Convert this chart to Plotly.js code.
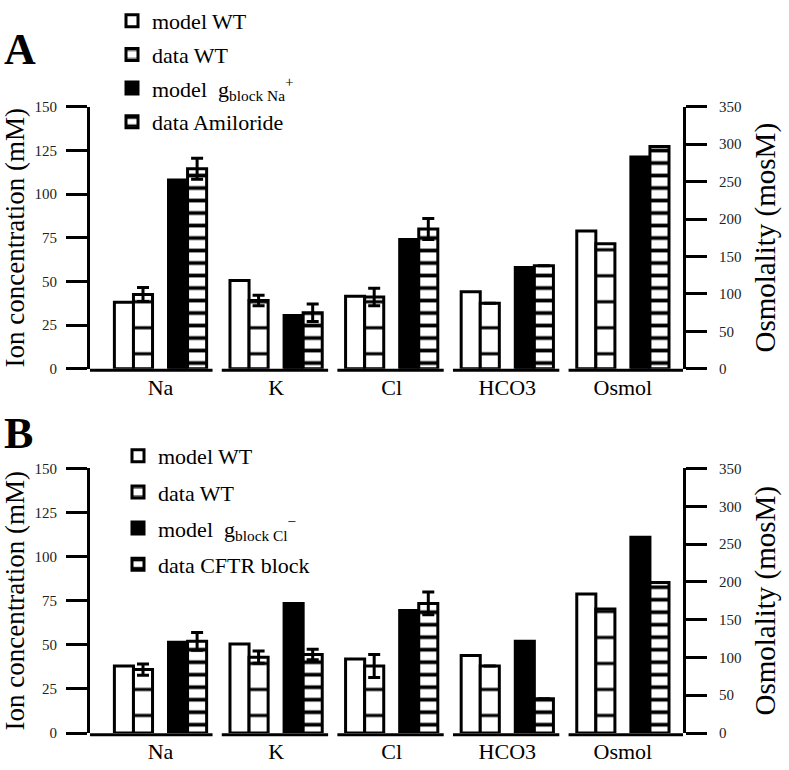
<!DOCTYPE html>
<html><head><meta charset="utf-8">
<script src="https://cdn.plot.ly/plotly-3.0.1.min.js"></script>
<style>html,body{margin:0;padding:0;background:#fff}#chart{width:789px;height:770px}</style>
</head><body><div id="chart"></div>
<script>
// ---- data ----
const categories = ['Na', 'K', 'Cl', 'HCO3', 'Osmol'];
const ionCategories = ['Na', 'K', 'Cl', 'HCO3'];
const osmCategory = ['Osmol'];
const ionTicks = [0, 25, 50, 75, 100, 125, 150];
const osmTicks = [0, 50, 100, 150, 200, 250, 300, 350];

// Panel A (ions in mM, osmolality in mosM)
const A_modelWT = [38, 50.5, 41.5, 44];
const A_modelWT_osm = [184];
const A_dataWT = [42.5, 39, 41, 37.5];
const A_dataWT_err = [4, 3, 5, null];
const A_dataWT_osm = [167];
const A_modelBlock = [108, 30.5, 74, 58];
const A_modelBlock_osm = [283];
const A_dataAmiloride = [114.5, 32, 80, 59];
const A_dataAmiloride_err = [6, 5, 6, null];
const A_dataAmiloride_osm = [297];

// Panel B
const B_modelWT = [38, 50.5, 42, 44];
const B_modelWT_osm = [184];
const B_dataWT = [36, 43, 38, 38];
const B_dataWT_err = [3.2, 3.5, 6.5, null];
const B_dataWT_osm = [164];
const B_modelBlock = [51.5, 73.5, 69.5, 52];
const B_modelBlock_osm = [259];
const B_dataCFTR = [52, 44.5, 73.5, 19.5];
const B_dataCFTR_err = [5, 3, 6.5, null];
const B_dataCFTR_osm = [199];

const namesA = ['model WT', 'data WT', 'model  g<sub>block Na</sub><sup>+</sup>', 'data Amiloride'];
const namesB = ['model WT', 'data WT', 'model  g<sub>block Cl</sub><sup>\u2212</sup>', 'data CFTR block'];

// ---- styles ----
const FONT = 'Liberation Serif';
const BW = 0.165;
const OFFSETS = [-0.399, -0.234, 0.069, 0.234];
const LINE = {color: 'black', width: 3};
const STYLES = [
  {color: 'white', line: LINE},
  {color: 'white', line: LINE, pattern: {shape: '-', size: 26, solidity: 0.12, fgcolor: 'black', bgcolor: 'white', fgopacity: 1}},
  {color: 'black', line: LINE},
  {color: 'white', line: LINE, pattern: {shape: '-', size: 12.5, solidity: 0.3, fgcolor: 'black', bgcolor: 'white', fgopacity: 1}}
];

function bar(k, name, x, y, err, xa, ya, legend, group, showlegend) {
  const t = {
    type: 'bar', name: name, x: x, y: y, xaxis: xa, yaxis: ya,
    width: BW, offset: OFFSETS[k], marker: STYLES[k],
    legend: legend, legendgroup: group, showlegend: showlegend,
    hoverinfo: 'x+y'
  };
  if (err) t.error_y = {type: 'data', array: err, visible: true, color: 'black', thickness: 3, width: 6};
  return t;
}

const A_ion = [A_modelWT, A_dataWT, A_modelBlock, A_dataAmiloride];
const A_err = [null, A_dataWT_err, null, A_dataAmiloride_err];
const A_osm = [A_modelWT_osm, A_dataWT_osm, A_modelBlock_osm, A_dataAmiloride_osm];
const B_ion = [B_modelWT, B_dataWT, B_modelBlock, B_dataCFTR];
const B_err = [null, B_dataWT_err, null, B_dataCFTR_err];
const B_osm = [B_modelWT_osm, B_dataWT_osm, B_modelBlock_osm, B_dataCFTR_osm];

const traces = [];
for (let k = 0; k < 4; k++) {
  traces.push(bar(k, namesA[k], ionCategories, A_ion[k], A_err[k], 'x', 'y', 'legend', 'A' + k, true));
  traces.push(bar(k, namesA[k], osmCategory, A_osm[k], null, 'x', 'y2', 'legend', 'A' + k, false));
}
for (let k = 0; k < 4; k++) {
  traces.push(bar(k, namesB[k], ionCategories, B_ion[k], B_err[k], 'x2', 'y3', 'legend2', 'B' + k, true));
  traces.push(bar(k, namesB[k], osmCategory, B_osm[k], null, 'x2', 'y4', 'legend2', 'B' + k, false));
}

const W = 789, H = 770;
const XDOM = [90 / W, 683 / W];
const XRANGE = [-0.61, 4.52];
const DOM_A = [1 - 365 / H, 1 - 100.7 / H];
const DOM_B = [1 - 732.7 / H, 1 - 465.7 / H];

function xaxis(anchor) {
  return {
    domain: XDOM, anchor: anchor, type: 'category', categoryorder: 'array', categoryarray: categories,
    range: XRANGE, showline: false, showgrid: false, zeroline: false, ticks: '',
    tickfont: {family: FONT, size: 22, color: 'black'}, ticklabelstandoff: 3, fixedrange: true
  };
}
function leftAxis(dom, anchor) {
  return {
    domain: dom, anchor: anchor, range: [0, 150], tickvals: ionTicks,
    showline: true, linewidth: 3, linecolor: 'black', ticks: 'outside', ticklen: 21, tickwidth: 3, tickcolor: 'black',
    showgrid: false, zeroline: false, tickfont: {family: FONT, size: 15, color: '#222'}, ticklabelstandoff: 6,
    title: {text: 'Ion concentration (mM)', font: {family: FONT, size: 27, color: 'black'}, standoff: 6}
  };
}
function rightAxis(over, anchor) {
  return {
    overlaying: over, anchor: anchor, side: 'right', range: [0, 350], tickvals: osmTicks,
    showline: true, linewidth: 3, linecolor: 'black', ticks: 'outside', ticklen: 21, tickwidth: 3, tickcolor: 'black',
    showgrid: false, zeroline: false, tickfont: {family: FONT, size: 15, color: '#222'}, ticklabelstandoff: 9,
    title: {text: 'Osmolality (mosM)', font: {family: FONT, size: 29, color: 'black'}, standoff: 15}
  };
}

// broken baseline under each category group
const shapes = [];
['x', 'x2'].forEach((xa, p) => {
  const ya = p === 0 ? 'y domain' : 'y3 domain';
  categories.forEach((c, i) => {
    shapes.push({
      type: 'line', xref: xa, yref: ya,
      x0: i === 0 ? XRANGE[0] : i - 0.47, x1: i === categories.length - 1 ? XRANGE[1] : i + 0.45,
      y0: -0.006, y1: -0.006, line: {color: 'black', width: 3}
    });
  });
});

const legendBase = {
  xanchor: 'left', yanchor: 'top', bgcolor: 'rgba(0,0,0,0)', borderwidth: 0,
  font: {family: FONT, size: 22, color: 'black'}, traceorder: 'grouped'
};

const layout = {
  width: W, height: H, margin: {l: 0, r: 0, t: 0, b: 0},
  paper_bgcolor: 'white', plot_bgcolor: 'white',
  font: {family: FONT, color: 'black'},
  barmode: 'overlay', showlegend: true,
  xaxis: xaxis('y'), yaxis: leftAxis(DOM_A, 'x'), yaxis2: rightAxis('y', 'x'),
  xaxis2: xaxis('y3'), yaxis3: leftAxis(DOM_B, 'x2'), yaxis4: rightAxis('y3', 'x2'),
  legend: Object.assign({x: 112 / W, y: 1 + 7 / H, tracegroupgap: 2}, legendBase),
  legend2: Object.assign({x: 118 / W, y: 1 - 432 / H, tracegroupgap: 4.5}, legendBase),
  shapes: shapes,
  annotations: [
    {text: '<b>A</b>', xref: 'paper', yref: 'paper', x: 20 / W, y: 1 - 43 / H, xanchor: 'center', yanchor: 'middle', showarrow: false, font: {family: FONT, size: 44, color: 'black'}},
    {text: '<b>B</b>', xref: 'paper', yref: 'paper', x: 18.5 / W, y: 1 - 430 / H, xanchor: 'center', yanchor: 'middle', showarrow: false, font: {family: FONT, size: 44, color: 'black'}}
  ]
};

Plotly.newPlot('chart', traces, layout, {displayModeBar: false, staticPlot: true});
</script>
</body></html>
